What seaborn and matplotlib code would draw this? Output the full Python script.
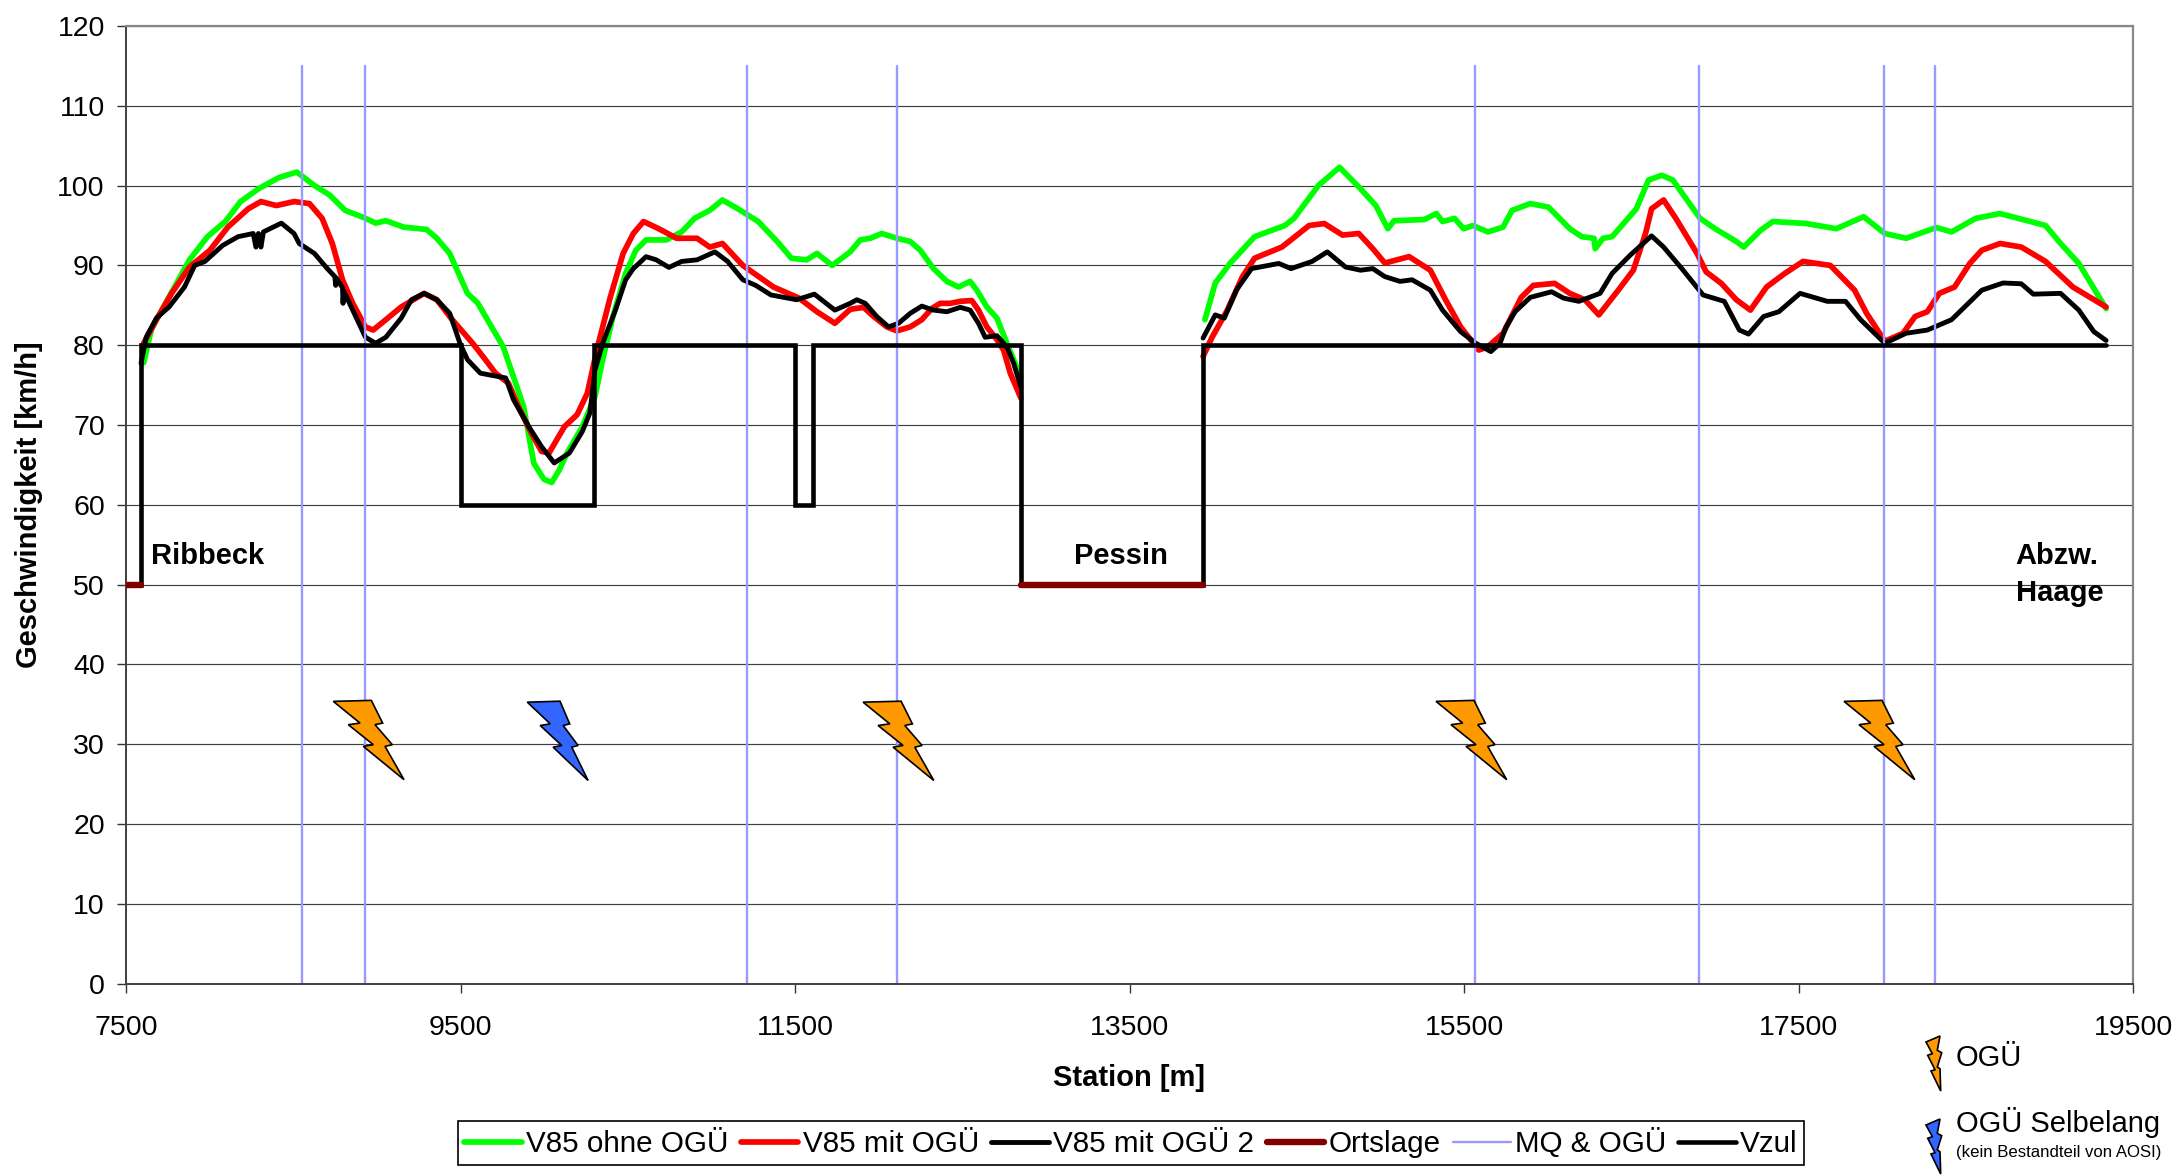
import matplotlib
matplotlib.use("Agg")
import matplotlib.pyplot as plt
from matplotlib.patches import Polygon
import seaborn as sns

# ------------------------------------------
# data
# ------------------------------------------
green_x = [7604, 7650, 7741, 7878, 7985, 8092, 8183, 8290, 8412, 8519, 8626, 8717, 8809, 8931, 8991, 9052, 9159, 9296,
           9357, 9434, 9540, 9601, 9754, 9876, 9937, 9998, 10044, 10090, 10136, 10227, 10303, 10349, 10410, 10486,
           10547, 10608, 10730, 10821, 10898, 10989, 11065, 11157, 11279, 11401, 11477, 11569, 11630, 11721, 11829,
           11889, 11949, 12018, 12108, 12188, 12248, 12327, 12407, 12477, 12546, 12586, 12646, 12706, 12766, 12806,
           12849]
green_y = [77.8, 82, 85.5, 90.7, 93.6, 95.5, 98, 99.6, 101, 101.7, 100, 98.8, 96.9, 95.9, 95.3, 95.6, 94.8, 94.5,
           93.4, 91.5, 86.5, 85.3, 79.8, 72.3, 65.2, 63.2, 62.8, 64.4, 66.5, 69.8, 73.6, 78.2, 83.6, 89,
           91.9, 93.2, 93.2, 94.2, 95.9, 96.9, 98.2, 97.1, 95.5, 92.8, 90.9, 90.7, 91.5, 90, 91.7,
           93.2, 93.4, 94, 93.4, 93, 91.9, 89.6, 88, 87.3, 88, 86.9, 84.8, 83.4, 80.25, 78.2,
           76]
green2_x = [13950, 14012, 14102, 14247, 14428, 14483, 14628, 14755, 14881, 14972, 15044, 15081, 15262, 15334, 15371,
            15443, 15497, 15552, 15642, 15733, 15787, 15896, 16005, 16132, 16204, 16277, 16284, 16331, 16385, 16530,
            16603, 16682, 16748, 16911, 17001, 17128, 17172, 17273, 17346, 17545, 17726, 17889, 18016, 18143, 18324,
            18415, 18560, 18705, 18977, 19067, 19176, 19339]
green2_y = [83.2, 87.8, 90.3, 93.6, 95, 95.9, 100, 102.3, 99.6, 97.5, 94.6, 95.6, 95.75, 96.5, 95.5,
            95.9, 94.6, 95, 94.2, 94.8, 96.9, 97.75, 97.3, 94.6, 93.6, 93.4, 92.1, 93.4, 93.6, 97.1,
            100.7, 101.3, 100.7, 95.9, 94.6, 93, 92.3, 94.4, 95.5, 95.25, 94.6, 96.1, 94, 93.4, 94.75,
            94.2, 95.9, 96.5, 95, 92.75, 90.25, 84.6]

red_x = [7604, 7680, 7771, 7878, 8000, 8107, 8229, 8305, 8397, 8503, 8595, 8671, 8732, 8793, 8854, 8930, 8976, 9052,
         9144, 9281, 9357, 9449, 9571, 9647, 9708, 9785, 9845, 9922, 9983, 10028, 10120, 10196, 10257, 10318, 10394,
         10471, 10532, 10593, 10684, 10791, 10913, 10989, 11065, 11187, 11370, 11523, 11630, 11737, 11829, 11909,
         11969, 12048, 12108, 12188, 12257, 12317, 12367, 12427, 12487, 12556, 12596, 12646, 12706, 12746, 12786,
         12849]
red_y = [80.25, 83.2, 86.5, 89.8, 91.9, 94.8, 97.1, 98, 97.5, 98, 97.75, 95.9, 92.75, 88.2, 85.25, 82.3, 81.9, 83.2,
         84.8, 86.5, 85.7, 83.2, 80.25, 78.2, 76.5, 75.25, 72.3, 69, 66.7, 66.5, 69.8, 71.3, 74, 79.8, 86,
         91.5, 94, 95.5, 94.6, 93.4, 93.4, 92.3, 92.75, 90, 87.3, 85.9, 84.2, 82.75, 84.5, 84.75,
         83.6, 82.3, 81.8, 82.3, 83.2, 84.6, 85.25, 85.25, 85.5, 85.6, 84.4, 82.3, 80.7, 79.4, 76.5,
         73.4]
red2_x = [13939, 13993, 14084, 14175, 14247, 14410, 14465, 14573, 14664, 14773, 14870, 14954, 15026, 15171, 15298,
          15389, 15479, 15588, 15642, 15733, 15842, 15914, 16041, 16132, 16222, 16306, 16422, 16512, 16585, 16621,
          16693, 16766, 16893, 16947, 17038, 17128, 17212, 17309, 17418, 17527, 17690, 17835, 17907, 18016, 18125,
          18197, 18270, 18342, 18433, 18524, 18596, 18705, 18832, 18977, 19140, 19339]
red2_y = [78.6, 81, 84.4, 88.6, 90.9, 92.3, 93.2, 95, 95.25, 93.8, 94, 92.1, 90.3, 91.1, 89.4,
          85.7, 82.3, 79.4, 79.8, 81.5, 86, 87.5, 87.75, 86.5, 85.7, 83.8, 86.9, 89.4, 94, 97.1,
          98.2, 95.9, 91.5, 89.2, 87.75, 85.7, 84.4, 87.3, 89, 90.5, 90, 86.9, 84, 80.5, 81.5,
          83.6, 84.2, 86.5, 87.3, 90.25, 91.9, 92.75, 92.3, 90.5, 87.3, 84.8]

black_x = [7588, 7619, 7680, 7756, 7848, 7909, 7970, 8076, 8168, 8259, 8275, 8290, 8305, 8320, 8427, 8503, 8534, 8625,
           8702, 8747, 8752, 8757, 8793, 8796, 8800, 8854, 8930, 8991, 9052, 9144, 9205, 9281, 9357, 9434, 9495, 9540,
           9617, 9769, 9815, 9907, 9983, 10059, 10150, 10227, 10272, 10303, 10349, 10425, 10486, 10532, 10608, 10669,
           10745, 10821, 10913, 11020, 11096, 11187, 11264, 11355, 11508, 11615, 11737, 11829, 11869, 11919, 11988,
           12058, 12118, 12188, 12257, 12327, 12407, 12487, 12546, 12596, 12636, 12706, 12766, 12806, 12849]
black_y = [77.75, 81, 83.4, 84.8, 87.3, 90, 90.5, 92.5, 93.6, 94, 92.3, 94, 92.3, 94.2, 95.3, 94, 92.75, 91.5,
           89.6, 88.6, 87.5, 88.4, 87.2, 85.25, 86.8, 84.4, 81, 80.25, 81, 83.4, 85.7, 86.5, 85.7, 84, 80.25, 78.2,
           76.5, 75.9, 73.2, 69.8, 67.3, 65.25, 66.5, 69.2, 71.5, 76.9, 80.25, 84.4, 88.2, 89.6, 91.1, 90.7,
           89.75, 90.5, 90.7, 91.7, 90.5, 88.2, 87.5, 86.3, 85.7, 86.4, 84.4, 85.25, 85.7, 85.25, 83.6,
           82.3, 82.75, 84, 84.9, 84.4, 84.2, 84.75, 84.4, 82.75, 81, 81.2, 79.8, 77.75, 74.8]
black2_x = [13939, 14012, 14066, 14138, 14229, 14392, 14465, 14591, 14682, 14791, 14881, 14954, 15026, 15117, 15189,
            15298, 15371, 15479, 15570, 15660, 15715, 15751, 15805, 15896, 16023, 16095, 16186, 16313, 16385, 16494,
            16621, 16693, 16802, 16929, 17056, 17146, 17201, 17291, 17382, 17509, 17672, 17781, 17871, 18016, 18143,
            18270, 18415, 18596, 18723, 18832, 18904, 19067, 19176, 19266, 19339]
black2_y = [80.9, 83.8, 83.4, 86.9, 89.6, 90.25, 89.6, 90.5, 91.7, 89.8, 89.4, 89.6, 88.6, 88, 88.2,
            86.9, 84.4, 81.7, 80.25, 79.2, 80.25, 82.3, 84.2, 86, 86.7, 85.9, 85.5, 86.5, 89, 91.3,
            93.7, 92.3, 89.6, 86.3, 85.5, 81.9, 81.4, 83.6, 84.2, 86.5, 85.5, 85.5, 83.2, 80.25, 81.5,
            81.9, 83.2, 86.9, 87.8, 87.7, 86.4, 86.5, 84.4, 81.7, 80.6]

vzul_x = [7500, 7587, 7587, 9504, 9504, 10297, 10297, 11499, 11499, 11605, 11605, 12849, 12849, 13939, 13939, 19340]
vzul_y = [50, 50, 80, 80, 60, 60, 80, 80, 60, 60, 80, 80, 50, 50, 80, 80]

ort1_x = [7500, 7587]
ort2_x = [12849, 13939]
ort_y = [50, 50]

mq_stations = [8552, 8930, 11212, 12108, 15566, 16907, 18012, 18313]
mq_y = [0, 115]

x_ticks = [7500, 9500, 11500, 13500, 15500, 17500, 19500]
y_ticks = list(range(0, 121, 10))

# bolts: left edge (station), top (speed), colour, horizontal squeeze
bolt_left = [8738, 9898, 11906, 15332, 17772]
bolt_top = [35.5, 35.4, 35.4, 35.5, 35.5]
bolt_color = ["#ff9900", "#3366ff", "#ff9900", "#ff9900", "#ff9900"]
bolt_squeeze = [1, 0.86, 1, 1, 1]
bolt_dx = [0, 38, 49.3, 41.7, 59, 51.7, 70.7, 30, 40, 15, 26.7]
bolt_dy = [1, 0, 22.7, 24.3, 44.3, 46, 79.3, 46, 44.3, 24.3, 22.7]
key_bolt_dx = [0, 14, 11.3, 15.7, 11.3, 14, 14.7, 5, 9, 1.7, 6.3]
key_bolt_dy = [6, 0, 14.3, 16.7, 31, 32.7, 55, 35, 33.7, 19.3, 17.7]

W, H = 2179, 1175
AX_L, AX_R, AX_T, AX_B = 126.3, 2133, 26, 983.7
GREEN, RED, DARKRED, MQ = "#00ff00", "#ff0000", "#800000", "#9999ff"
FS = 20.5
FS_BOLD = 21

sns.set_theme(style="ticks")
plt.rcParams["font.family"] = ["Liberation Sans", "DejaVu Sans"]
plt.rcParams["text.color"] = "black"

fig = plt.figure(figsize=(W / 100, H / 100), dpi=100)
ax = fig.add_axes([AX_L / W, 1 - AX_B / H, (AX_R - AX_L) / W, (AX_B - AX_T) / H])

# ------------------------------------------
# series, same order as the legend
# ------------------------------------------
line_opts = dict(sort=False, estimator=None, ax=ax, solid_capstyle="round", solid_joinstyle="round")
sns.lineplot(x=green_x, y=green_y, color=GREEN, linewidth=4.1, label="V85 ohne OGÜ", **line_opts)
sns.lineplot(x=green2_x, y=green2_y, color=GREEN, linewidth=4.1, **line_opts)
sns.lineplot(x=red_x, y=red_y, color=RED, linewidth=4.1, label="V85 mit OGÜ", **line_opts)
sns.lineplot(x=red2_x, y=red2_y, color=RED, linewidth=4.1, **line_opts)
sns.lineplot(x=black_x, y=black_y, color="black", linewidth=3.5, label="V85 mit OGÜ 2", **line_opts)
sns.lineplot(x=black2_x, y=black2_y, color="black", linewidth=3.5, **line_opts)
sns.lineplot(x=ort1_x, y=ort_y, color=DARKRED, linewidth=4.6, label="Ortslage", zorder=5, **line_opts)
sns.lineplot(x=ort2_x, y=ort_y, color=DARKRED, linewidth=4.6, zorder=5, **line_opts)
for i, st in enumerate(mq_stations):
    sns.lineplot(x=[st, st], y=mq_y, color=MQ, linewidth=1.7, label="MQ & OGÜ" if i == 0 else None, **line_opts)
sns.lineplot(x=vzul_x, y=vzul_y, color="black", linewidth=3.3, label="Vzul",
             sort=False, estimator=None, ax=ax, solid_capstyle="round", solid_joinstyle="miter")

# bolts sit on top of the grid, sized in pixels -> data units
m_per_px = (x_ticks[-1] - x_ticks[0]) / (AX_R - AX_L)
kmh_per_px = 120 / (AX_B - AX_T)
for left, top, col, sq in zip(bolt_left, bolt_top, bolt_color, bolt_squeeze):
    pts = [(left + dx * sq * m_per_px, top - dy * kmh_per_px) for dx, dy in zip(bolt_dx, bolt_dy)]
    ax.add_patch(Polygon(pts, closed=True, facecolor=col, edgecolor="black", linewidth=1.2, zorder=6))

# ------------------------------------------
# axes
# ------------------------------------------
ax.set_xlim(x_ticks[0], x_ticks[-1])
ax.set_ylim(0, 120)
ax.set_xticks(x_ticks)
ax.set_yticks(y_ticks)
ax.yaxis.grid(True, color="#404040", linewidth=0.85)
ax.set_axisbelow(True)
ax.tick_params(axis="x", length=6.5, width=1, color="#333333", pad=16, labelsize=FS, labelcolor="black")
ax.tick_params(axis="y", length=6.5, width=1, color="#333333", pad=9, labelsize=FS, labelcolor="black")
for side in ["left", "bottom"]:
    ax.spines[side].set_color("#404040")
    ax.spines[side].set_linewidth(1.4)
for side in ["top", "right"]:
    ax.spines[side].set_visible(True)
    ax.spines[side].set_color("#888888")
    ax.spines[side].set_linewidth(1.6)

fig.text(1129 / W, 1 - 1078 / H, "Station [m]", fontsize=FS_BOLD, fontweight="bold", ha="center", va="center")
fig.text(29 / W, 1 - 505 / H, "Geschwindigkeit [km/h]", fontsize=FS_BOLD, fontweight="bold", rotation=90,
         ha="center", va="center")

ax.text(7648, 53.6, "Ribbeck", fontsize=FS_BOLD, fontweight="bold", ha="left", va="center")
ax.text(13447, 53.6, "Pessin", fontsize=FS_BOLD, fontweight="bold", ha="center", va="center")
ax.text(18798, 53.6, "Abzw.", fontsize=FS_BOLD, fontweight="bold", ha="left", va="center")
ax.text(18798, 48.9, "Haage", fontsize=FS_BOLD, fontweight="bold", ha="left", va="center")

# ------------------------------------------
# legend and the bolt key under the axes
# ------------------------------------------
handles, labels = ax.get_legend_handles_labels()
leg = ax.legend(handles, labels, ncol=6, fontsize=21.3, loc="center", bbox_to_anchor=(1131 / W, 1 - 1143 / H),
                bbox_transform=fig.transFigure, frameon=True, fancybox=False, edgecolor="black", framealpha=1,
                handlelength=1.95, handletextpad=0.14, columnspacing=0.42, borderpad=0.22, borderaxespad=0)
leg.get_frame().set_linewidth(1.2)

for y0, col in [(1036, "#ff9900"), (1119, "#3366ff")]:
    pts = [((1926 + dx) / W, 1 - (y0 + dy) / H) for dx, dy in zip(key_bolt_dx, key_bolt_dy)]
    fig.add_artist(Polygon(pts, closed=True, facecolor=col, edgecolor="black", linewidth=1.2,
                           transform=fig.transFigure))
fig.text(1956 / W, 1 - 1058 / H, "OGÜ", fontsize=21, ha="left", va="center")
fig.text(1956 / W, 1 - 1122 / H, "OGÜ Selbelang", fontsize=21, ha="left", va="center")
fig.text(1956 / W, 1 - 1153 / H, "(kein Bestandteil von AOSI)", fontsize=12.1, ha="left", va="center")

fig.savefig("out.png", dpi=100)
plt.close(fig)
